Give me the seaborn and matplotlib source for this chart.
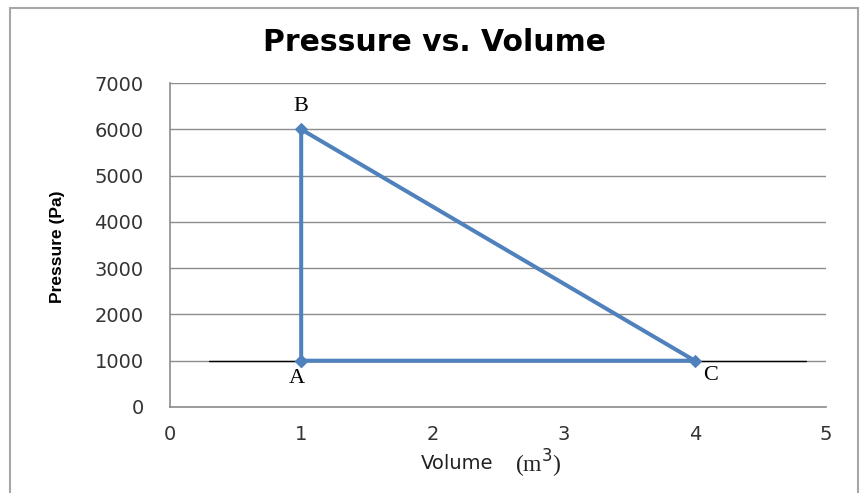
import matplotlib
matplotlib.use("Agg")
import matplotlib.pyplot as plt
import seaborn as sns
import pandas as pd

sns.set_style("white")
plt.rcParams['font.family'] = ['DejaVu Sans']

# cycle A -> B -> C -> A
volume = [1, 1, 4, 1]
pressure = [1000, 6000, 1000, 1000]
point_names = ['A', 'B', 'C']
point_label_pos = [(0.97, 620), (1.0, 6500), (4.12, 680)]
x_ticks = [0, 1, 2, 3, 4, 5]
y_ticks = [0, 1000, 2000, 3000, 4000, 5000, 6000, 7000]

df = pd.DataFrame({'volume': volume, 'pressure': pressure})

fig = plt.figure(figsize=(8.62, 4.93), dpi=100)
ax = fig.add_axes([0.1972, 0.1745, 0.761, 0.657])

# frame around the chart
fig.patches.append(plt.Rectangle((0.012, -0.05), 0.983, 1.034, transform=fig.transFigure,
                                 fill=False, edgecolor='#a6a6a6', linewidth=1.5))

# thin black reference line at P = 1000
ax.plot([0.3, 4.85], [1000, 1000], color='black', linewidth=1.0, zorder=2)

sns.lineplot(data=df, x='volume', y='pressure', sort=False, estimator=None,
             color='#4f81bd', linewidth=2.9, marker='D', markersize=6,
             markeredgecolor='#4f81bd', ax=ax, zorder=3)

for name, (px, py) in zip(point_names, point_label_pos):
    ax.text(px, py, name, family='Liberation Serif', fontsize=16,
            ha='center', va='center', color='black')

ax.set_xlim(0, 5)
ax.set_ylim(0, 7000)
ax.set_xticks(x_ticks)
ax.set_yticks(y_ticks)
ax.yaxis.grid(True, color='#8c8c8c', linewidth=1.0)
ax.set_axisbelow(True)

for side in ['top', 'right']:
    ax.spines[side].set_visible(False)
for side in ['left', 'bottom']:
    ax.spines[side].set_color('#8c8c8c')
    ax.spines[side].set_linewidth(1.2)

ax.tick_params(axis='y', direction='out', length=8, color='#8c8c8c', width=1.2,
               labelsize=14, pad=11, labelcolor='#333333')
ax.tick_params(axis='x', direction='out', length=5, color='#8c8c8c', width=1.2,
               labelsize=14, pad=8, labelcolor='#333333')

ax.set_xlabel('')
ax.set_ylabel('')
fig.text(0.067, 0.50, 'Pressure (Pa)', rotation=90, ha='center', va='center',
         fontsize=12.5, fontweight='bold', family='Liberation Sans', color='black')
fig.text(0.572, 0.059, 'Volume', ha='right', va='center', fontsize=14, color='#222222')
fig.text(0.598, 0.059, r'(m$^3$)', ha='left', va='center', fontsize=17,
         family='Liberation Serif', color='#222222')

fig.text(0.504, 0.913, 'Pressure vs. Volume', ha='center', va='center',
         fontsize=21.5, fontweight='bold', color='black')

fig.savefig('out.png', dpi=100)
